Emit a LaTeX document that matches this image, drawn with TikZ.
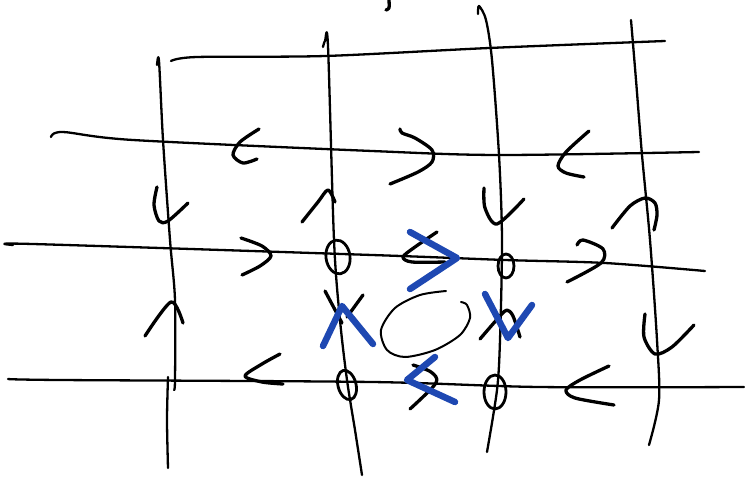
\documentclass[tikz,border=0pt]{standalone}
\usetikzlibrary{calc}
\definecolor{penblue}{RGB}{30,72,178}
\tikzset{
  gridstroke/.style={black,line width=2.3pt,line cap=round,line join=round},
  inkstroke/.style={black,line width=3.3pt,line cap=round,line join=round},
  ringstroke/.style={black,line width=2.8pt,line cap=round,line join=round},
  thinstroke/.style={black,line width=2pt,line cap=round,line join=round},
  bluestroke/.style={penblue,line width=6.5pt,line cap=round,line join=round}
}
\begin{document}
\begin{tikzpicture}[x=1pt,y=-1pt]
\useasboundingbox (0,0) rectangle (745,479);
% vertical grid strokes
\draw[gridstroke] plot[smooth] coordinates {(157,65) (159,61) (163,140) (170,240) (175,300) (175,380) (174,390)};
\draw[gridstroke] plot[smooth] coordinates {(168,377) (167,420) (168,468)};
\draw[gridstroke] plot[smooth] coordinates {(323,47) (325,41) (328,46) (334,240) (340,320) (347,380) (355,430) (362,475)};
\draw[gridstroke] plot[smooth] coordinates {(478,14) (479,6) (486,20) (492,60) (499,155) (502,240) (500,340) (497,390) (487,452)};
\draw[gridstroke] plot[smooth] coordinates {(631,20) (636,80) (642,155) (650,240) (657,340) (659,400) (649,445)};
% horizontal grid strokes
\draw[gridstroke] plot[smooth] coordinates {(171,61) (197,57) (325,56) (489,48) (665,41)};
\draw[gridstroke] plot[smooth] coordinates {(51,137) (63,132) (133,140) (372,151) (499,155) (699,152)};
\draw[gridstroke] plot[smooth] coordinates {(13,245) (33,244) (372,255) (505,260) (605,263) (705,271)};
\draw[gridstroke] plot[smooth] coordinates {(8,379) (60,380) (372,382) (539,387) (744,387)};
% small tick at the top
\draw[inkstroke] plot[smooth] coordinates {(389,0) (389,8) (386,10)};
% row 1 horizontal chevrons
\draw[inkstroke] plot[smooth] coordinates {(259,129) (240,142) (233,155) (243,163) (257,159)};
\draw[inkstroke] plot[smooth] coordinates {(400,129) (402,133) (415,138) (432,150) (432,162) (418,172) (390,184)};
\draw[inkstroke] plot[smooth] coordinates {(589,131) (566,152) (558,166) (566,173) (584,177)};
% row 1-2 vertical chevrons
\draw[inkstroke] plot[smooth] coordinates {(157,187) (154,205) (159,221) (168,221) (188,203)};
\draw[inkstroke] plot[smooth] coordinates {(302,222) (318,202) (328,190) (335,202)};
\draw[inkstroke] plot[smooth] coordinates {(484,188) (485,208) (497,224) (524,199)};
\draw[inkstroke] plot[smooth] coordinates {(612,228) (630,206) (645,198) (655,203) (657,215) (654,230)};
% row 2 chevrons and circles
\draw[inkstroke] plot[smooth] coordinates {(241,238) (262,246) (271,256) (260,266) (242,275)};
\draw[ringstroke,rotate around={8:(338,257)}] (338,257) ellipse [x radius=12, y radius=17];
\draw[inkstroke] plot[smooth] coordinates {(437,232) (415,247) (403,257) (412,262) (445,262)};
\draw[ringstroke] (506,266) ellipse [x radius=8, y radius=12];
\draw[inkstroke] plot[smooth] coordinates {(577,245) (583,240) (603,249) (601,263) (567,282)};
% row 2-3 vertical chevrons
\draw[inkstroke] plot[smooth] coordinates {(145,336) (171,302) (183,323)};
\draw[inkstroke] (325,291) -- (342,323);
\draw[inkstroke] (363,295) -- (347,317);
\draw[thinstroke] plot[smooth] coordinates {(446,291) (420,295) (395,308) (381,330) (387,350) (405,357) (435,350) (460,335) (470,318) (467,305) (461,302)};
\draw[inkstroke] plot[smooth] coordinates {(480,339) (500,316) (507,310) (513,316) (520,337)};
\draw[inkstroke] plot[smooth] coordinates {(645,314) (644,337) (655,354) (672,347) (694,325)};
% row 3 chevrons and circles
\draw[inkstroke] plot[smooth] coordinates {(280,354) (262,364) (245,376) (262,382) (283,384)};
\draw[ringstroke,rotate around={15:(347,385)}] (347,385) ellipse [x radius=9, y radius=15];
\draw[inkstroke] plot[smooth] coordinates {(413,365) (431,372) (436,383) (410,409)};
\draw[ringstroke] (495,392) ellipse [x radius=11, y radius=17];
\draw[inkstroke] plot[smooth] coordinates {(609,366) (580,380) (566,390) (575,398) (614,405)};
% blue strokes
\draw[bluestroke] (410,232) -- (457,258) -- (410,289);
\draw[bluestroke] (323,346) -- (342,306) -- (373,344);
\draw[bluestroke] (485,294) -- (508,338) -- (532,305);
\draw[bluestroke] (435,357) -- (407,380) -- (455,402);
\end{tikzpicture}
\end{document}
